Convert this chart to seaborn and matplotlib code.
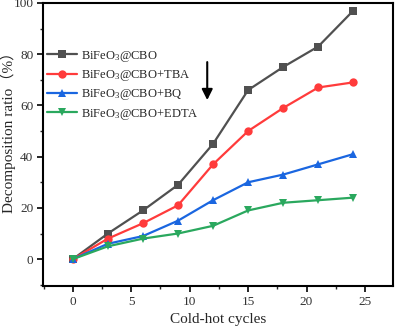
import matplotlib
matplotlib.use("Agg")
import matplotlib.pyplot as plt
from matplotlib.ticker import MultipleLocator
import seaborn as sns
import pandas as pd

cycles = [0, 3, 6, 9, 12, 15, 18, 21, 24]
cbo = [0, 10, 19, 29, 45, 66, 75, 83, 97]
cbo_tba = [0, 8, 14, 21, 37, 50, 59, 67, 69]
cbo_bq = [0, 6, 9, 15, 23, 30, 33, 37, 41]
cbo_edta = [0, 5, 8, 10, 13, 19, 22, 23, 24]

labels = [r"BiFeO$_3$@CBO", r"BiFeO$_3$@CBO+TBA",
          r"BiFeO$_3$@CBO+BQ", r"BiFeO$_3$@CBO+EDTA"]
colors = ["#505050", "#ff3b3b", "#1a66e0", "#2aa85e"]
markers = ["s", "o", "^", "v"]

sns.set_theme(style="ticks")
plt.rcParams["font.family"] = ["Liberation Serif", "Noto Sans CJK SC"]
plt.rcParams["mathtext.fontset"] = "custom"
plt.rcParams["mathtext.rm"] = "Liberation Serif"
plt.rcParams["mathtext.it"] = "Liberation Serif"

df = pd.DataFrame({
    "cycle": cycles * 4,
    "ratio": cbo + cbo_tba + cbo_bq + cbo_edta,
    "sample": sum([[lab] * len(cycles) for lab in labels], []),
})

fig = plt.figure(figsize=(3.95, 3.28), dpi=100)
ax = fig.add_axes([0.109, 0.128, 0.886, 0.863])

for lab, c, m in zip(labels, colors, markers):
    sub = df[df["sample"] == lab]
    sns.lineplot(data=sub, x="cycle", y="ratio", ax=ax, color=c, marker=m,
                 markersize=6, markeredgewidth=0, linewidth=1.6, label=lab)

ax.set_xlim(-2.55, 27.4)
ax.set_ylim(-10.5, 100)
ax.xaxis.set_major_locator(MultipleLocator(5))
ax.xaxis.set_minor_locator(MultipleLocator(2.5))
ax.yaxis.set_major_locator(MultipleLocator(20))
ax.yaxis.set_minor_locator(MultipleLocator(10))
ax.tick_params(which="major", direction="out", length=4, width=1.2, labelsize=9.5,
               colors="black", pad=3)
ax.tick_params(which="minor", direction="out", length=2.5, width=1.0)
ax.tick_params(axis="both", which="both", labelcolor="#333333")
for s in ax.spines.values():
    s.set_linewidth(1.5)
    s.set_color("black")

ax.set_xlabel("Cold-hot cycles", fontsize=11, labelpad=4)
ax.set_ylabel("Decomposition ratio（%）", fontsize=11)
ax.yaxis.set_label_coords(-0.078, 0.555)

ax.annotate("", xy=(11.5, 61), xytext=(11.5, 78),
            arrowprops=dict(arrowstyle="-|>", color="black", lw=1.5,
                            mutation_scale=16))

ax.legend(loc="upper left", bbox_to_anchor=(-0.01, 0.865), frameon=False,
          fontsize=9, handlelength=2.4, handletextpad=0.3, labelspacing=0.35,
          borderaxespad=0.2)

fig.savefig("out.png", dpi=100)
